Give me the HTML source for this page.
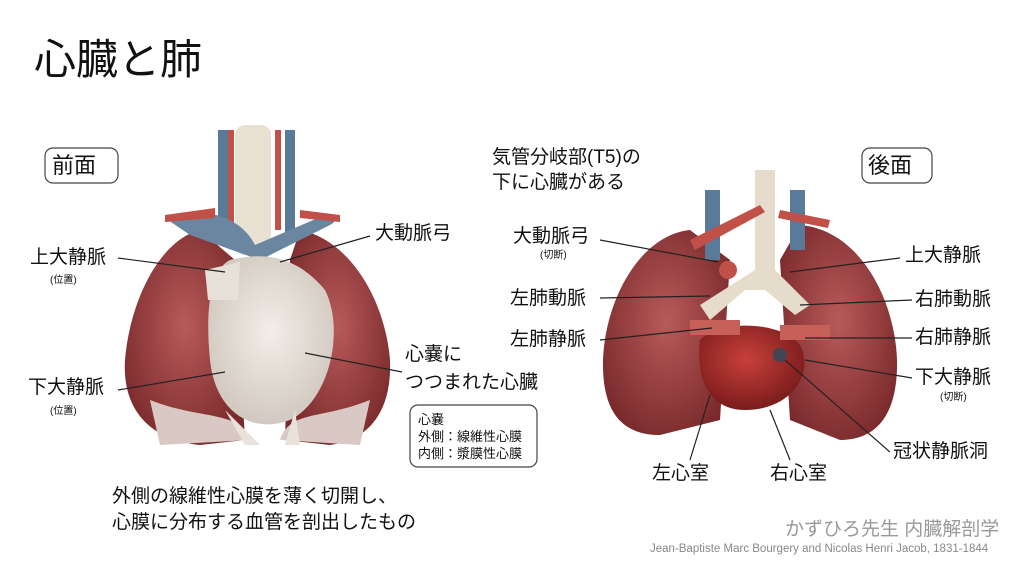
<!DOCTYPE html>
<html><head><meta charset="utf-8"><style>
body{margin:0;width:1024px;height:576px;background:#fff;overflow:hidden;position:relative;font-family:"Liberation Sans","Noto Sans CJK JP",sans-serif;color:#111}
.t{position:absolute;white-space:nowrap;line-height:1}
.s{font-size:19px}
.x{font-size:10px}
svg{position:absolute;left:0;top:0}
</style></head><body>
<svg width="1024" height="576">
<defs>
<radialGradient id="lung" cx="50%" cy="45%" r="60%"><stop offset="0" stop-color="#b85a5a"/><stop offset="1" stop-color="#7a2a2c"/></radialGradient>
<radialGradient id="hw" cx="50%" cy="45%" r="60%"><stop offset="0" stop-color="#f2eee8"/><stop offset="1" stop-color="#cfc6bc"/></radialGradient>
<radialGradient id="hr" cx="45%" cy="40%" r="60%"><stop offset="0" stop-color="#c8403a"/><stop offset="1" stop-color="#7a1c1c"/></radialGradient>
</defs>
<path d="M200 230 C160 240 130 300 125 360 C122 410 150 440 200 445 L245 440 L235 260 Z" fill="url(#lung)"/>
<path d="M300 230 C350 240 385 300 390 360 C392 410 370 440 330 445 L285 440 L290 260 Z" fill="url(#lung)"/>
<path d="M150 400 C200 420 240 410 250 440 L160 445 Z" fill="#d9c8c4"/>
<path d="M370 400 C320 420 290 410 280 440 L360 445 Z" fill="#d9c8c4"/>
<rect x="218" y="130" width="10" height="110" fill="#5a7a9a"/>
<rect x="285" y="130" width="10" height="110" fill="#5a7a9a"/>
<rect x="235" y="125" width="36" height="130" rx="10" fill="#e8e0d0"/>
<rect x="228" y="130" width="6" height="100" fill="#c05048"/>
<rect x="275" y="130" width="6" height="100" fill="#c05048"/>
<path d="M165 218 C200 205 240 215 255 245 L325 215 C335 212 340 220 330 225 L260 260 L190 235 Z" fill="#6b86a0"/>
<path d="M165 215 L215 208 L215 218 L165 222Z M300 210 L340 215 L340 222 L300 218Z" fill="#c05048"/>
<path d="M230 260 C270 250 300 260 325 290 C345 330 330 400 290 420 C250 435 215 410 210 360 C205 310 210 270 230 260Z" fill="url(#hw)"/>
<path d="M205 270 L240 262 L238 300 L208 300Z" fill="#e6e0d8"/>
<path d="M225 410 L260 445 L245 445Z M295 410 L300 445 L285 445Z" fill="#e8e2da"/>
<path d="M690 230 C640 235 605 300 603 360 C602 410 620 435 660 435 L720 420 L730 260 Z" fill="url(#lung)"/>
<path d="M800 225 C860 230 895 300 897 360 C898 410 880 440 840 440 L790 420 L780 260 Z" fill="url(#lung)"/>
<path d="M700 340 C720 320 780 320 800 345 C815 375 790 410 745 410 C710 410 695 380 700 340Z" fill="url(#hr)"/>
<path d="M705 190 L720 190 L720 260 L705 260Z M790 190 L805 190 L805 250 L790 250Z" fill="#5a7a9a"/>
<path d="M755 170 L775 170 L775 270 L810 305 L795 315 L765 290 L745 290 L710 320 L700 305 L755 270Z" fill="#e5dccb"/>
<circle cx="728" cy="270" r="9" fill="#c05048"/>
<path d="M690 240 L760 205 L765 212 L695 250Z M780 210 L830 220 L828 228 L778 218Z" fill="#c05048"/>
<path d="M690 320 L740 320 L740 335 L690 335Z M780 325 L830 325 L830 340 L780 340Z" fill="#c8605a"/>
<circle cx="780" cy="355" r="7" fill="#445"/>
<g stroke="#222" stroke-width="1.2" fill="none">
<path d="M118 258 L225 272"/><path d="M370 236 L280 262"/>
<path d="M118 390 L225 372"/><path d="M402 372 L305 353"/>
<path d="M600 240 L718 262"/><path d="M600 298 L710 296"/><path d="M600 340 L712 328"/>
<path d="M900 258 L790 272"/><path d="M912 300 L800 305"/><path d="M912 338 L805 338"/><path d="M912 378 L805 360"/>
<path d="M890 452 L785 360"/><path d="M690 460 L710 395"/><path d="M790 460 L770 410"/>
</g>
<rect x="45" y="148" width="73" height="35" rx="8" fill="none" stroke="#444" stroke-width="1.2"/>
<rect x="862" y="148" width="70" height="35" rx="8" fill="none" stroke="#444" stroke-width="1.2"/>
<rect x="410" y="405" width="127" height="62" rx="8" fill="#fff" stroke="#444" stroke-width="1.2"/>
</svg>
<div class="t" style="left:34px;top:39px;font-size:42px">心臓と肺</div>
<div class="t" style="left:52px;top:155px;font-size:22px">前面</div>
<div class="t" style="left:868px;top:155px;font-size:22px">後面</div>
<div class="t s" style="left:30px;top:248px">上大静脈</div>
<div class="t x" style="left:50px;top:276px">(位置)</div>
<div class="t s" style="left:375px;top:224px">大動脈弓</div>
<div class="t s" style="left:28px;top:378px">下大静脈</div>
<div class="t x" style="left:50px;top:407px">(位置)</div>
<div class="t s" style="left:405px;top:345px">心嚢に</div>
<div class="t s" style="left:405px;top:373px">つつまれた心臓</div>
<div class="t" style="left:418px;top:411px;font-size:13px;line-height:17px">心嚢<br>外側：線維性心膜<br>内側：漿膜性心膜</div>
<div class="t s" style="left:112px;top:487px">外側の線維性心膜を薄く切開し、</div>
<div class="t s" style="left:112px;top:513px">心膜に分布する血管を剖出したもの</div>
<div class="t s" style="left:492px;top:148px">気管分岐部(T5)の</div>
<div class="t s" style="left:492px;top:173px">下に心臓がある</div>
<div class="t s" style="left:513px;top:227px">大動脈弓</div>
<div class="t x" style="left:540px;top:251px">(切断)</div>
<div class="t s" style="left:510px;top:289px">左肺動脈</div>
<div class="t s" style="left:510px;top:330px">左肺静脈</div>
<div class="t s" style="left:905px;top:246px">上大静脈</div>
<div class="t s" style="left:915px;top:290px">右肺動脈</div>
<div class="t s" style="left:915px;top:328px">右肺静脈</div>
<div class="t s" style="left:915px;top:368px">下大静脈</div>
<div class="t x" style="left:940px;top:393px">(切断)</div>
<div class="t s" style="left:893px;top:442px">冠状静脈洞</div>
<div class="t s" style="left:652px;top:464px">左心室</div>
<div class="t s" style="left:770px;top:464px">右心室</div>
<div class="t" style="left:785px;top:520px;font-size:19px;color:#999">かずひろ先生 内臓解剖学</div>
<div class="t" style="left:650px;top:544px;font-size:11.5px;color:#888">Jean-Baptiste Marc Bourgery and Nicolas Henri Jacob, 1831-1844</div>
</body></html>
